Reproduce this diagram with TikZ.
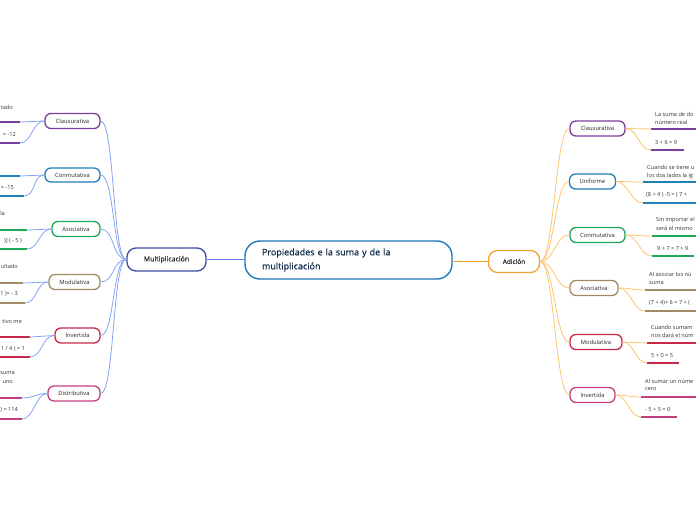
\documentclass[tikz,border=0pt]{standalone}
\usepackage{fontspec}
\setmainfont{Open Sans}
\definecolor{cpurple}{HTML}{7B3F9E}
\definecolor{cblue}{HTML}{2080B8}
\definecolor{cgreen}{HTML}{1FA85A}
\definecolor{ctan}{HTML}{A08C64}
\definecolor{ccrimson}{HTML}{C8284A}
\definecolor{cmagenta}{HTML}{C2407F}
\definecolor{lblue}{HTML}{86A3F3}
\definecolor{lorange}{HTML}{FCC470}
\definecolor{mblue}{HTML}{5A7DE8}
\definecolor{morange}{HTML}{F5A030}
\definecolor{centerblue}{HTML}{1F78B4}
\definecolor{multborder}{HTML}{3D4AA0}
\definecolor{navy}{HTML}{0E2A47}
\begin{document}
\begin{tikzpicture}[x=1pt,y=-1pt,
  topic/.style={draw, line width=1.3pt, fill=white, rounded corners=6pt, inner sep=0pt,
    minimum height=15pt, font=\fontsize{5.8}{6}\selectfont, text=black!85},
  leaftext/.style={inner sep=0pt, font=\fontsize{5.6}{6}\selectfont, text=black!80},
  lefttext/.style={leaftext, anchor=east},
  righttext/.style={leaftext, anchor=west},
  leafline/.style={line width=2.2pt},
  lconn/.style={draw=lblue, line width=0.8pt},
  rconn/.style={draw=lorange, line width=0.8pt}]
\useasboundingbox (0,0) rectangle (696,520);
\clip (0,0) rectangle (696,520);

% central
\node[draw=centerblue, line width=1.4pt, fill=white, rounded corners=15pt, inner sep=0pt,
  minimum width=207pt, minimum height=38pt, text width=173pt, align=left,
  font=\fontsize{9}{14}\selectfont\addfontfeatures{FakeBold=0.3}, text=navy]
  (center) at (348.5,260) {Propiedades e la suma y de la\\multiplicación};
\node[draw=multborder, line width=1.3pt, fill=white, rounded corners=9pt, inner sep=0pt,
  minimum width=79pt, minimum height=23pt, font=\fontsize{7}{8}\selectfont\addfontfeatures{FakeBold=0.2}, text=black!85]
  (mult) at (166.5,259.5) {Multiplicación};
\node[draw=morange, line width=1.3pt, fill=white, rounded corners=9pt, inner sep=0pt,
  minimum width=51pt, minimum height=22pt, font=\fontsize{6.5}{8}\selectfont\addfontfeatures{FakeBold=0.2}, text=black!85]
  (adic) at (514,261.5) {Adición};
\draw[mblue, line width=1pt] (center.west |- mult.east) -- (mult.east);
\draw[morange, line width=1pt] (center.east |- adic.west) -- (adic.west);

% left topics
\node[topic, draw=cpurple, minimum width=55pt] (Lclaus) at (72.5,121) {Clausurativa};
\node[topic, draw=cblue, minimum width=55pt, minimum height=14pt] (Lconm) at (72.5,175) {Conmutativa};
\node[topic, draw=cgreen, minimum width=48pt] (Lasoc) at (76,229) {Asociativa};
\node[topic, draw=ctan, minimum width=51pt] (Lmodu) at (74.5,282) {Modulativa};
\node[topic, draw=ccrimson, minimum width=45pt] (Linv) at (77.5,335.5) {Invertida};
\node[topic, draw=cmagenta, minimum width=52pt] (Ldist) at (74,393.5) {Distributiva};

\foreach \t in {Lclaus,Lconm,Lasoc,Lmodu,Linv,Ldist}
  \draw[lconn] (mult.west) .. controls +(-14,0) and +(14,0) .. (\t.east);

% right topics
\node[topic, draw=cpurple, minimum width=55pt] (Rclaus) at (597.5,128.5) {Clausurativa};
\node[topic, draw=cblue, minimum width=46pt] (Runif) at (592.5,181.5) {Uniforme};
\node[topic, draw=cgreen, minimum width=55pt] (Rconm) at (597.5,235) {Conmutativa};
\node[topic, draw=ctan, minimum width=48pt] (Rasoc) at (594,288) {Asociativa};
\node[topic, draw=ccrimson, minimum width=52pt] (Rmodu) at (596,342) {Modulativa};
\node[topic, draw=cmagenta, minimum width=45pt] (Rinv) at (592.5,395) {Invertida};

\foreach \t in {Rclaus,Runif,Rconm,Rasoc,Rmodu,Rinv}
  \draw[rconn] (adic.east) .. controls +(14,0) and +(-14,0) .. (\t.west);

% ---------- left leaves ----------
% Clausurativa
\coordinate (Lc1) at (20,122); \coordinate (Lc2) at (20,143);
\draw[leafline, cpurple] (-5,122) -- (Lc1);
\draw[leafline, cpurple] (-5,143) -- (Lc2);
\node[lefttext] (Lc1t) at (13,107) {tado};
\node[lefttext] (Lc2t) at (16,134) {= -12};
% Conmutativa
\coordinate (Ln1) at (20,176); \coordinate (Ln2) at (24,196);
\draw[leafline, cblue] (-5,176) -- (Ln1);
\draw[leafline, cblue] (-5,196) -- (Ln2);
\node[lefttext] (Ln2t) at (14,188) {= -15};
% Asociativa
\coordinate (La1) at (27,230); \coordinate (La2) at (27,249);
\draw[leafline, cgreen] (-5,230) -- (La1);
\draw[leafline, cgreen] (-5,249) -- (La2);
\node[lefttext] (La1t) at (5,213) {la};
\node[lefttext] (La2t) at (22,241) {)] ( - 5 )};
% Modulativa
\coordinate (Lm1) at (23,283); \coordinate (Lm2) at (25,303);
\draw[leafline, ctan] (-5,283) -- (Lm1);
\draw[leafline, ctan] (-5,303) -- (Lm2);
\node[lefttext] (Lm1t) at (18,266) {ultado};
\node[lefttext] (Lm2t) at (18,294) {1 )= - 3};
% Invertida
\coordinate (Li1) at (30,337); \coordinate (Li2) at (30,357);
\draw[leafline, ccrimson] (-5,337) -- (Li1);
\draw[leafline, ccrimson] (-5,357) -- (Li2);
\node[lefttext] (Li1t) at (22,321) {tivo me};
\node[lefttext] (Li2t) at (25,349) {1 / 4 ) = 1};
% Distributiva
\coordinate (Ld1) at (22,398); \coordinate (Ld2) at (22,419);
\draw[leafline, cmagenta] (-5,398) -- (Ld1);
\draw[leafline, cmagenta] (-5,419) -- (Ld2);
\node[lefttext] (Ld1t) at (15,373) {suma};
\node[lefttext] (Ld1u) at (13,382) {uno};
\node[lefttext] (Ld2t) at (18,410) {) = 114};

\foreach \t/\a/\b in {Lclaus/Lc1/Lc2, Lconm/Ln1/Ln2, Lasoc/La1/La2, Lmodu/Lm1/Lm2, Linv/Li1/Li2, Ldist/Ld1/Ld2}{
  \draw[lconn] (\t.west) .. controls +(-12,0) and +(12,0) .. (\a);
  \draw[lconn] (\t.west) .. controls +(-12,0) and +(12,0) .. (\b);
}

% ---------- right leaves ----------
% Clausurativa
\coordinate (Rc1) at (651,129); \coordinate (Rc2) at (651,150);
\draw[leafline, cpurple] (Rc1) -- (700,129);
\draw[leafline, cpurple] (Rc2) -- (684,150);
\node[righttext] (Rc1t) at (655,114) {La suma de do};
\node[righttext] (Rc1u) at (655,122) {número real};
\node[righttext] (Rc2t) at (655,142) {3 + 6 = 9};
% Uniforme
\coordinate (Ru1) at (643,182); \coordinate (Ru2) at (643,203);
\draw[leafline, cblue] (Ru1) -- (700,182);
\draw[leafline, cblue] (Ru2) -- (700,203);
\node[righttext] (Ru1t) at (647,167) {Cuando se tiene u};
\node[righttext] (Ru1u) at (647,176) {los dos lados la ig};
\node[righttext] (Ru2t) at (646,195) {(8 + 4 ) -5 = ( 7 +};
% Conmutativa
\coordinate (Rn1) at (652,236); \coordinate (Rn2) at (652,256);
\draw[leafline, cgreen] (Rn1) -- (700,236);
\draw[leafline, cgreen] (Rn2) -- (694,256);
\node[righttext] (Rn1t) at (656,220) {Sin importar el};
\node[righttext] (Rn1u) at (656,228) {será el mismo};
\node[righttext] (Rn2t) at (657,248) {9 + 7 = 7 + 9};
% Asociativa
\coordinate (Ra1) at (645,290); \coordinate (Ra2) at (645,311);
\draw[leafline, ctan] (Ra1) -- (700,290);
\draw[leafline, ctan] (Ra2) -- (700,311);
\node[righttext] (Ra1t) at (649,274) {Al asociar los nú};
\node[righttext] (Ra1u) at (649,283) {suma};
\node[righttext] (Ra2t) at (649,303) {(7 + 4)+ 6 = 7 + (};
% Modulativa
\coordinate (Rm1) at (647,343); \coordinate (Rm2) at (647,363);
\draw[leafline, ccrimson] (Rm1) -- (700,343);
\draw[leafline, ccrimson] (Rm2) -- (679,363);
\node[righttext] (Rm1t) at (651,327) {Cuando sumam};
\node[righttext] (Rm1u) at (651,335) {nos dará el núm};
\node[righttext] (Rm2t) at (651,355) {5 + 0 = 5};
% Invertida
\coordinate (Ri1) at (641,397); \coordinate (Ri2) at (641,417);
\draw[leafline, cmagenta] (Ri1) -- (700,397);
\draw[leafline, cmagenta] (Ri2) -- (677,417);
\node[righttext] (Ri1t) at (645,381) {Al sumar un núme};
\node[righttext] (Ri1u) at (645,389) {cero};
\node[righttext] (Ri2t) at (645,409) {- 5 + 5 = 0};

\foreach \t/\a/\b in {Rclaus/Rc1/Rc2, Runif/Ru1/Ru2, Rconm/Rn1/Rn2, Rasoc/Ra1/Ra2, Rmodu/Rm1/Rm2, Rinv/Ri1/Ri2}{
  \draw[rconn] (\t.east) .. controls +(12,0) and +(-12,0) .. (\a);
  \draw[rconn] (\t.east) .. controls +(12,0) and +(-12,0) .. (\b);
}
\end{tikzpicture}
\end{document}
